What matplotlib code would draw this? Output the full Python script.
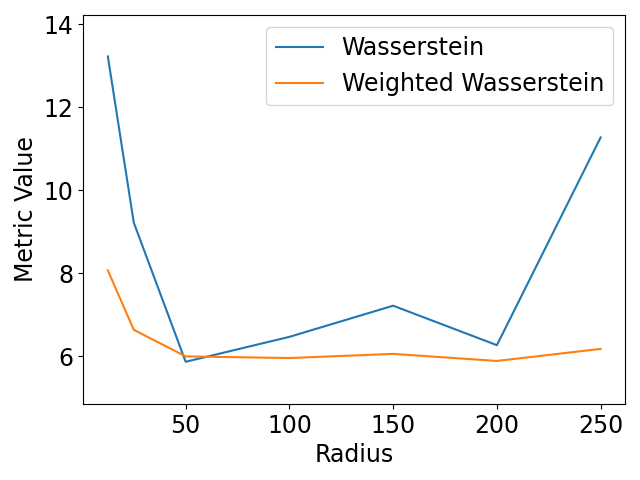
import matplotlib
matplotlib.use('Agg')
import matplotlib.pyplot as plt

# Radius values and metric results
radius = [12.5, 25, 50, 100, 150, 200, 250]
wasserstein = [13.22, 9.22, 5.87, 6.47, 7.22, 6.27, 11.27]
weighted_wasserstein = [8.07, 6.64, 6.00, 5.96, 6.06, 5.89, 6.18]

plt.rcParams['font.size'] = 17

fig, ax = plt.subplots(figsize=(6.4, 4.8), dpi=100)
ax.plot(radius, wasserstein, label='Wasserstein')
ax.plot(radius, weighted_wasserstein, label='Weighted Wasserstein')
ax.set_ylim(4.85, 14.22)
ax.set_xlabel('Radius')
ax.set_ylabel('Metric Value')
ax.legend()

fig.subplots_adjust(left=0.130, right=0.977, bottom=0.158, top=0.969)
plt.savefig('out.png', dpi=100)
plt.close()
